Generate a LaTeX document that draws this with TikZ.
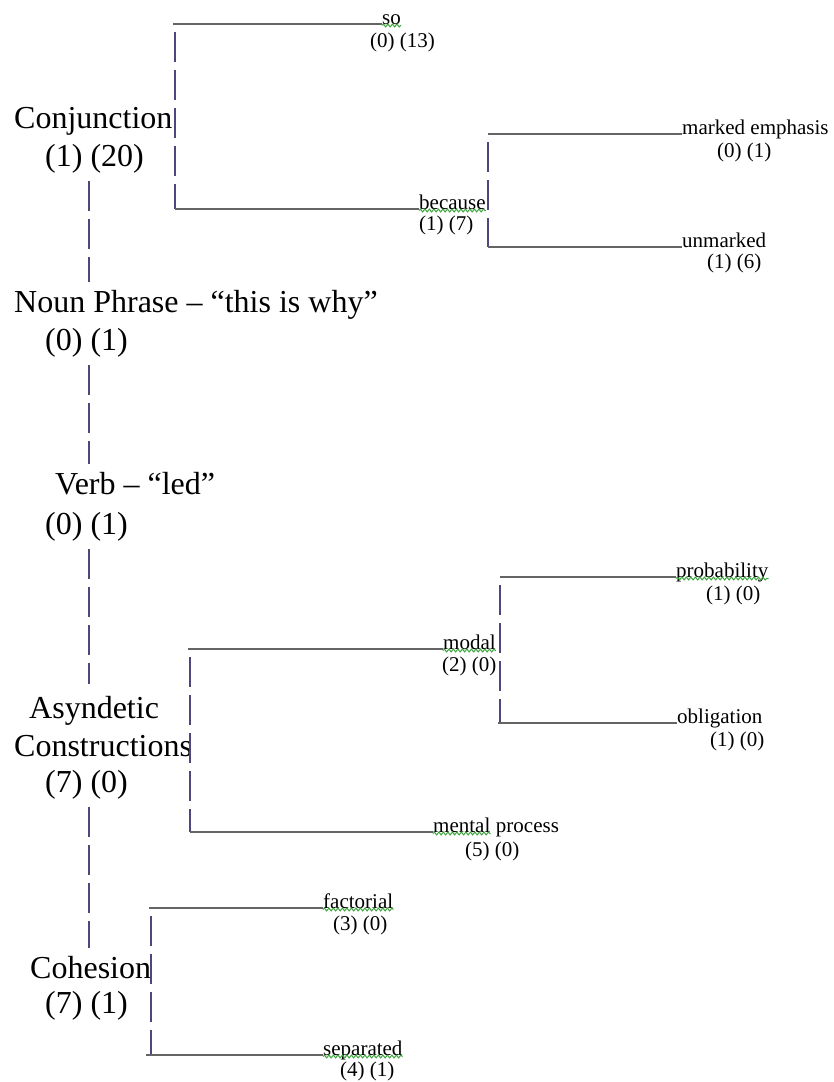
\documentclass[tikz,border=0pt]{standalone}
\usepackage{fontspec}
\setmainfont{Liberation Serif}
\usetikzlibrary{decorations.pathmorphing}
\definecolor{vcol}{RGB}{80,70,125}
\definecolor{hcol}{RGB}{100,100,100}
\definecolor{sqcol}{RGB}{60,165,60}
\tikzset{
  big/.style={font=\fontsize{32}{38}\selectfont, inner sep=0pt, anchor=base west},
  small/.style={font=\fontsize{21}{25}\selectfont, inner sep=0pt, anchor=base west},
  hline/.style={draw=hcol, line width=1.4pt},
  vline/.style={draw=vcol, line width=1.4pt, dash pattern=on 30pt off 8pt},
  vbr/.style={vline, dash phase=30pt},
  squig/.style={draw=sqcol, line width=1pt, decorate,
    decoration={snake, amplitude=1.4pt, segment length=4.5pt}},
}
\begin{document}
\begin{tikzpicture}[x=1pt,y=-1pt]
\useasboundingbox[fill=white] (0,0) rectangle (833,1082);

% main spine labels
\node[big] (cj)  at (14,128)  {Conjunction};
\node[big] (cjc) at (45,166)  {(1) (20)};
\node[big] (np)  at (14,312)  {Noun Phrase – “this is why”};
\node[big] (npc) at (45,350)  {(0) (1)};
\node[big] (vb)  at (55,494)  {Verb – “led”};
\node[big] (vbc) at (45,534)  {(0) (1)};
\node[big] (as1) at (29,718)  {Asyndetic};
\node[big] (as2) at (14,756)  {Constructions};
\node[big] (asc) at (45,792)  {(7) (0)};
\node[big] (co)  at (30,978)  {Cohesion};
\node[big] (coc) at (45,1013) {(7) (1)};

% leaf labels
\node[small] (so)  at (382,24)   {so};
\node[small] (soc) at (370,47)   {(0) (13)};
\node[small] (bc)  at (419,209)  {because};
\node[small] (bcc) at (419,230)  {(1) (7)};
\node[small] (me)  at (682,134)  {marked emphasis};
\node[small] (mec) at (717,157)  {(0) (1)};
\node[small] (um)  at (682,247)  {unmarked};
\node[small] (umc) at (707,268)  {(1) (6)};
\node[small] (md)  at (443,649)  {modal};
\node[small] (mdc) at (442,671)  {(2) (0)};
\node[small] (pb)  at (676,577)  {probability};
\node[small] (pbc) at (706,600)  {(1) (0)};
\node[small] (ob)  at (677,723)  {obligation};
\node[small] (obc) at (710,746)  {(1) (0)};
\node[small] (mt)  at (433,832)  {mental};
\node[small] (pr)  at ([xshift=5.25pt]mt.base east) {process};
\node[small] (mtc) at (465,856)  {(5) (0)};
\node[small] (fa)  at (323,908)  {factorial};
\node[small] (fac) at (333,930)  {(3) (0)};
\node[small] (se)  at (323,1055) {separated};
\node[small] (sec) at (340,1076) {(4) (1)};

% spine
\coordinate (sp) at (89,0);
\draw[vline, shorten <=8pt, shorten >=8pt]  (cjc.south -| sp) -- (np.north -| sp);
\draw[vline, shorten <=8pt, shorten >=8pt]  (npc.south -| sp) -- (vb.north -| sp);
\draw[vline, shorten <=8pt, shorten >=12pt] (vbc.south -| sp) -- (as1.north -| sp);
\draw[vline, shorten <=8pt, shorten >=8pt]  (asc.south -| sp) -- (co.north -| sp);

% bracket: Conjunction
\coordinate (b1t) at (175,24);
\coordinate (b1b) at (175,209);
\draw[hline] ([xshift=-2pt]b1t) -- (so.base west);
\draw[vbr] (b1t) -- (b1b);
\draw[hline] (b1b) -- (bc.base west);

% bracket: because
\coordinate (b2t) at (488,134);
\coordinate (b2b) at (488,247);
\draw[hline] (b2t) -- (me.base west);
\draw[vbr] (b2t) -- (b2b);
\draw[hline] (b2b) -- (um.base west);

% bracket: Asyndetic Constructions
\coordinate (b3t) at (190,649);
\coordinate (b3b) at (190,832);
\draw[hline] ([xshift=-2pt]b3t) -- (md.base west);
\draw[vbr] (b3t) -- (b3b);
\draw[hline] (b3b) -- (mt.base west);

% bracket: modal
\coordinate (b4t) at (500,577);
\coordinate (b4b) at (500,723);
\draw[hline] (b4t) -- (pb.base west);
\draw[vbr] (b4t) -- (b4b);
\draw[hline] ([xshift=-2pt]b4b) -- (ob.base west);

% bracket: Cohesion
\coordinate (b5t) at (151,908);
\coordinate (b5b) at (151,1055);
\draw[hline] ([xshift=-2pt]b5t) -- (fa.base west);
\draw[vbr] (b5t) -- (b5b);
\draw[hline] ([xshift=-5pt]b5b) -- (se.base west);

% spell-check underlines
\foreach \w in {so,bc,md,mt,pb,fa,se}
  \draw[squig] ([yshift=-1.5pt]\w.base west) -- ([yshift=-1.5pt]\w.base east);
\end{tikzpicture}
\end{document}
